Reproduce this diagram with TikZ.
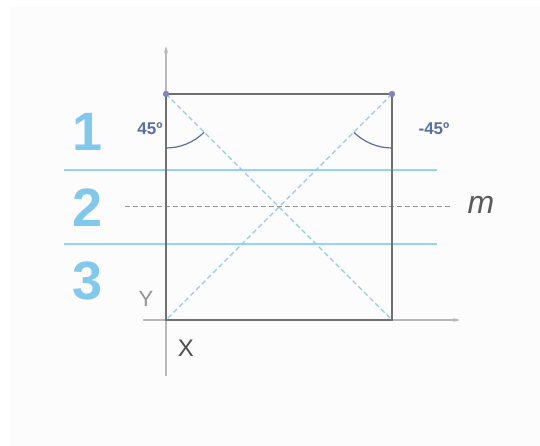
\documentclass[tikz,border=0pt]{standalone}
\usepackage{fontspec}
\setmainfont{Liberation Sans}
\usetikzlibrary{arrows.meta}
\definecolor{axisgray}{HTML}{B8B8B8}
\definecolor{sqgray}{HTML}{707070}
\definecolor{lineblue}{HTML}{8FD6F0}
\definecolor{numblue}{HTML}{80C8EC}
\definecolor{diagblue}{HTML}{94CBEA}
\definecolor{anglecol}{HTML}{5A6EA6}
\definecolor{panel}{HTML}{FCFCFC}
\tikzset{
  axis/.style={axisgray, line width=1.2pt, -{Stealth[length=7pt,width=4pt]}},
  sq/.style={sqgray, line width=1.6pt},
  band/.style={lineblue, line width=1.3pt},
  diag/.style={diagblue, line width=1.1pt, dash pattern=on 5pt off 3pt},
  mline/.style={gray!85, line width=1pt, dash pattern=on 5pt off 3pt},
  num/.style={numblue, font=\bfseries\fontsize{54}{54}\selectfont},
  ang/.style={anglecol, font=\bfseries\fontsize{17}{17}\selectfont},
  arcst/.style={anglecol, line width=1.2pt},
  dot/.style={circle, fill=anglecol!80, inner sep=0pt, minimum size=6pt}
}
\begin{document}
\begin{tikzpicture}[x=1pt,y=-1pt]
\useasboundingbox (0,0) rectangle (540,446);
\fill[panel] (10,7) rectangle (540,446);
% axes
\coordinate (ybot) at (166,376);
\coordinate (ytop) at (166,46);
\coordinate (xl) at (143,320);
\coordinate (xr) at (460,320);
\draw[axis] (ybot) -- (ytop);
\draw[axis] (xl) -- (xr);
% bands
\coordinate (b1l) at (64,170); \coordinate (b1r) at (437,170);
\coordinate (b2l) at (64,244); \coordinate (b2r) at (437,244);
\draw[band] (b1l) -- (b1r);
\draw[band] (b2l) -- (b2r);
% square corners
\node[dot] (tl) at (166,94) {};
\node[dot] (tr) at (392,94) {};
\coordinate (bl) at (166,320);
\coordinate (br) at (392,320);
% diagonals
\draw[diag] (tl.center) -- (br);
\draw[diag] (tr.center) -- (bl);
% m line
\coordinate (ml) at (125,207); \coordinate (mr) at (452,207);
\draw[mline] (ml) -- (mr);
% square
\draw[sq] (tl.center) -- (tr.center) -- (br) -- (bl) -- cycle;
\node[dot] at (tl.center) {};
\node[dot] at (tr.center) {};
% arcs
\draw[arcst] (166,148) arc[start angle=90, end angle=45, radius=54];
\draw[arcst] (392,148) arc[start angle=90, end angle=135, radius=54];
% labels
\node[num] (n1) at (88,132) {1};
\node[num] (n2) at (88,208) {2};
\node[num] (n3) at (88,281) {3};
\node[ang] (a1) at (150,129) {45º};
\node[ang] (a2) at (434,129) {-45º};
\node[font=\itshape\fontsize{32}{32}\selectfont, sqgray!80!black] (m) at (481,205) {m};
\node[font=\fontsize{22}{22}\selectfont, axisgray!80!black] (Y) at (146,299) {Y};
\node[font=\fontsize{24}{24}\selectfont, sqgray!70!black] (X) at (186,348) {X};
\end{tikzpicture}
\end{document}
